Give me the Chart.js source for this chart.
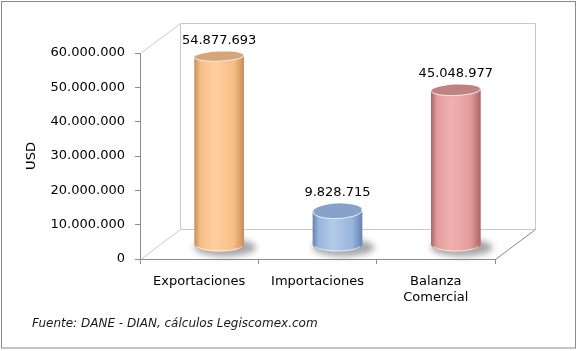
<!DOCTYPE html>
<html lang="es">
<head>
    <meta charset="UTF-8">
    <title>Balanza Comercial</title>
    <script src="https://cdn.jsdelivr.net/npm/chart.js@4.4.1/dist/chart.umd.min.js"></script>
    <style>
        body { margin: 0; background: #fff; }
        canvas { display: block; }
    </style>
</head>
<body>
    <canvas id="chart" width="577" height="351"></canvas>
    <script>
        // Datos
        const categories = ['Exportaciones', 'Importaciones', ['Balanza', 'Comercial']];
        const values = [54877693, 9828715, 45048977];
        const yMin = 0;
        const yMax = 60000000;
        const yStep = 10000000;
        const sourceText = 'Fuente: DANE - DIAN, cálculos Legiscomex.com';

        // colores de cilindro: borde, cuerpo claro, tapa
        const cylColors = [
            { edge: '#c58e5c', light: '#ffd0a0', mid: '#f7bd85', top: '#d8a57a' },
            { edge: '#6783ad', light: '#b3cbea', mid: '#98b5de', top: '#86a2cb' },
            { edge: '#a76565', light: '#f0b0b0', mid: '#e39c9c', top: '#c08282' }
        ];

        const FONT = 'Verdana, "DejaVu Sans", sans-serif';
        const fmt = n => String(Math.round(n)).replace(/\B(?=(\d{3})+(?!\d))/g, '.');

        // profundidad 3D
        const WALL_DX = 40, WALL_DY = -30;
        const CYL_DX = 20, CYL_DY = -14;

        const chart3d = {
            id: 'chart3d',
            beforeDatasetsDraw(chart) {
                const { ctx, chartArea: a } = chart;
                ctx.save();
                ctx.strokeStyle = '#c9c9c9';
                ctx.lineWidth = 1;
                ctx.beginPath();
                // pared de fondo
                ctx.rect(a.left + WALL_DX + 0.5, a.top + WALL_DY + 0.5, a.right - a.left, a.bottom - a.top);
                // diagonales
                ctx.moveTo(a.left + 0.5, a.top + 0.5);
                ctx.lineTo(a.left + WALL_DX + 0.5, a.top + WALL_DY + 0.5);
                ctx.moveTo(a.left + 0.5, a.bottom + 0.5);
                ctx.lineTo(a.left + WALL_DX + 0.5, a.bottom + WALL_DY + 0.5);
                ctx.stroke();
                ctx.strokeStyle = '#8c8c8c';
                ctx.beginPath();
                ctx.moveTo(a.right + 0.5, a.bottom + 0.5);
                ctx.lineTo(a.right + WALL_DX + 0.5, a.bottom + WALL_DY + 0.5);
                ctx.stroke();
                ctx.restore();
            },
            afterDatasetsDraw(chart) {
                const { ctx } = chart;
                const meta = chart.getDatasetMeta(0);
                meta.data.forEach((bar, i) => {
                    const c = cylColors[i];
                    const cx = bar.x + CYL_DX;
                    const rx = bar.width / 2;
                    const yTop = bar.y + CYL_DY;
                    const yBase = bar.base + CYL_DY;
                    const ryTop = 5 + 3 * (yTop - 50) / 170;
                    const ryBase = 7;

                    ctx.save();
                    // sombra
                    ctx.filter = 'blur(3px)';
                    ctx.fillStyle = 'rgba(60,60,60,0.45)';
                    ctx.beginPath();
                    ctx.ellipse(cx + 6, yBase + 3, rx + 6, ryBase + 2, 0, 0, Math.PI * 2);
                    ctx.fill();
                    ctx.filter = 'none';

                    // cuerpo
                    const g = ctx.createLinearGradient(cx - rx, 0, cx + rx, 0);
                    g.addColorStop(0, c.edge);
                    g.addColorStop(0.12, c.mid);
                    g.addColorStop(0.4, c.light);
                    g.addColorStop(0.8, c.mid);
                    g.addColorStop(1, c.edge);
                    ctx.fillStyle = g;
                    ctx.beginPath();
                    ctx.moveTo(cx - rx, yTop);
                    ctx.lineTo(cx - rx, yBase);
                    ctx.ellipse(cx, yBase, rx, ryBase, 0, Math.PI, 0, true);
                    ctx.lineTo(cx + rx, yTop);
                    ctx.closePath();
                    ctx.fill();

                    // borde inferior claro
                    ctx.strokeStyle = 'rgba(255,255,255,0.7)';
                    ctx.lineWidth = 1;
                    ctx.beginPath();
                    ctx.ellipse(cx, yBase, rx - 1, ryBase - 0.5, 0, Math.PI * 0.9, Math.PI * 0.1, true);
                    ctx.stroke();

                    // tapa
                    const gt = ctx.createLinearGradient(cx - rx, yTop - ryTop, cx + rx, yTop + ryTop);
                    gt.addColorStop(0, c.top);
                    gt.addColorStop(0.6, c.mid);
                    gt.addColorStop(1, c.top);
                    ctx.fillStyle = c.top;
                    ctx.beginPath();
                    ctx.ellipse(cx, yTop, rx, ryTop, -0.04, 0, Math.PI * 2);
                    ctx.fill();
                    ctx.strokeStyle = 'rgba(255,255,255,0.85)';
                    ctx.beginPath();
                    ctx.ellipse(cx, yTop, rx - 0.5, ryTop - 0.5, -0.04, Math.PI * 1.05, Math.PI * -0.05, true);
                    ctx.stroke();

                    // etiqueta de valor
                    ctx.fillStyle = '#000';
                    ctx.font = '13px ' + FONT;
                    ctx.textAlign = 'center';
                    ctx.textBaseline = 'middle';
                    ctx.fillText(fmt(values[i]), cx, yTop - ryTop - 11);
                    ctx.restore();
                });
            },
            afterDraw(chart) {
                const { ctx } = chart;
                ctx.save();
                // fuente
                ctx.fillStyle = '#1a1a1a';
                ctx.font = 'italic 12px ' + FONT;
                ctx.textAlign = 'left';
                ctx.textBaseline = 'middle';
                ctx.fillText(sourceText, 32, 324);
                // marco exterior
                ctx.strokeStyle = '#8a8a8a';
                ctx.lineWidth = 1;
                ctx.strokeRect(1.5, 1.5, 574, 346.5);
                ctx.restore();
            }
        };

        new Chart(document.getElementById('chart'), {
            type: 'bar',
            data: {
                labels: categories,
                datasets: [{
                    data: values,
                    backgroundColor: 'rgba(0,0,0,0)',
                    borderWidth: 0,
                    categoryPercentage: 1,
                    barPercentage: 0.42
                }]
            },
            options: {
                responsive: false,
                animation: false,
                devicePixelRatio: 1,
                layout: { padding: { top: 53, right: 82, left: 0, bottom: 0 } },
                plugins: {
                    legend: { display: false },
                    tooltip: { enabled: false }
                },
                scales: {
                    x: {
                        afterFit: s => { s.height = 92; },
                        grid: {
                            offset: true,
                            drawOnChartArea: false,
                            tickLength: 5,
                            color: '#8c8c8c'
                        },
                        border: { color: '#8c8c8c' },
                        ticks: {
                            color: '#000',
                            padding: 10,
                            maxRotation: 0,
                            font: { family: FONT, size: 13 }
                        }
                    },
                    y: {
                        min: yMin,
                        max: yMax,
                        afterFit: s => { s.width = 140; },
                        grid: {
                            drawOnChartArea: false,
                            tickLength: 5,
                            color: '#8c8c8c'
                        },
                        border: { color: '#8c8c8c' },
                        ticks: {
                            stepSize: yStep,
                            color: '#000',
                            padding: 10,
                            font: { family: FONT, size: 13 },
                            callback: v => fmt(v)
                        },
                        title: {
                            display: true,
                            text: 'USD',
                            color: '#000',
                            font: { family: FONT, size: 13 },
                            padding: { top: 24, bottom: 0 }
                        }
                    }
                }
            },
            plugins: [chart3d]
        });
    </script>
</body>
</html>
